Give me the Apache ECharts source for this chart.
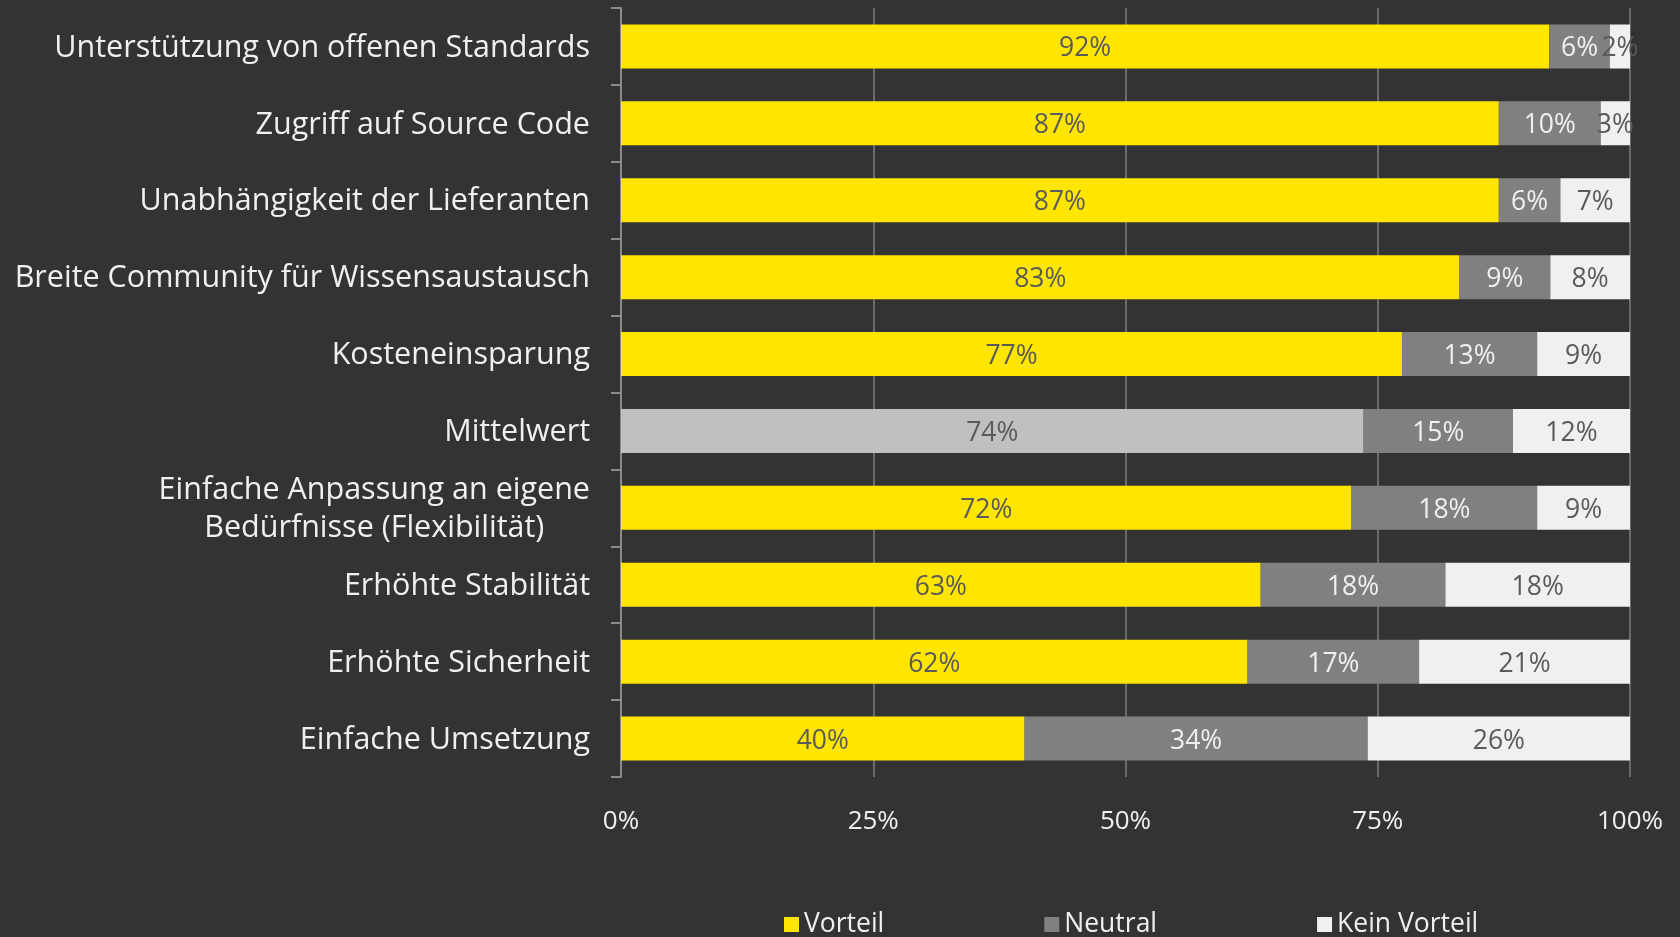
<!DOCTYPE html>
<html>
<head>
<meta charset="utf-8">
<script src="https://cdn.jsdelivr.net/npm/echarts@6/dist/echarts.min.js"></script>
<style>
html,body{margin:0;padding:0;background:#333333;}
#chart{width:1680px;height:937px;}
</style>
</head>
<body>
<div id="chart"></div>
<script>
const categories = [
  'Unterstützung von offenen Standards',
  'Zugriff auf Source Code',
  'Unabhängigkeit der Lieferanten',
  'Breite Community für Wissensaustausch',
  'Kosteneinsparung',
  'Mittelwert',
  'Einfache Anpassung an eigene\nBedürfnisse (Flexibilität)',
  'Erhöhte Stabilität',
  'Erhöhte Sicherheit',
  'Einfache Umsetzung'
];
const seriesNames = ['Vorteil', 'Neutral', 'Kein Vorteil'];
const vorteil = [92.0, 87.0, 87.0, 83.1, 77.4, 73.6, 72.4, 63.4, 62.1, 40.0];
const neutral = [6.0, 10.1, 6.1, 9.0, 13.4, 14.8, 18.4, 18.3, 17.0, 34.0];
const keinVorteil = [2.0, 2.9, 6.9, 7.9, 9.2, 11.6, 9.2, 18.3, 20.9, 26.0];
const xTicks = [0, 25, 50, 75, 100];

const FONT = 'Open Sans';
const chart = echarts.init(document.getElementById('chart'));
const labelFmt = p => Math.round(p.value) + '%';

const vorteilData = vorteil.map((v, i) => categories[i] === 'Mittelwert'
  ? { value: v, itemStyle: { color: '#c0c0c0' } }
  : v);

function mkSeries(name, data, color, labelColor) {
  return {
    name: name,
    type: 'bar',
    stack: 'total',
    data: data,
    barWidth: 44,
    itemStyle: { color: color },
    label: {
      show: true,
      position: 'inside',
      formatter: labelFmt,
      color: labelColor,
      fontFamily: FONT,
      fontSize: 26.5,
      offset: [0, 2.5]
    },
    emphasis: { disabled: true }
  };
}

chart.setOption({
  backgroundColor: '#333333',
  animation: false,
  grid: { left: 621, right: 50, top: 8, bottom: 160, containLabel: false },
  legend: {
    data: seriesNames,
    left: 779,
    top: 906,
    icon: 'rect',
    itemWidth: 15,
    itemHeight: 15,
    itemGap: 160,
    selectedMode: false,
    textStyle: { color: '#f0f0f0', fontFamily: FONT, fontSize: 26.5 }
  },
  xAxis: {
    type: 'value',
    min: xTicks[0],
    max: xTicks[xTicks.length - 1],
    interval: xTicks[1] - xTicks[0],
    axisLine: { show: false },
    axisTick: { show: false },
    splitLine: { show: true, lineStyle: { color: '#7f7f7f', width: 1.5 } },
    axisLabel: {
      color: '#f0f0f0',
      fontFamily: FONT,
      fontSize: 26,
      margin: 32,
      formatter: '{value}%'
    }
  },
  yAxis: {
    type: 'category',
    data: categories,
    inverse: true,
    axisLine: { show: true, lineStyle: { color: '#8c8c8c', width: 2 } },
    axisTick: { show: true, length: 10, lineStyle: { color: '#8c8c8c', width: 2 } },
    axisLabel: {
      color: '#f0f0f0',
      fontFamily: FONT,
      fontSize: 30.5,
      margin: 31,
      lineHeight: 38,
      padding: [3, 0, 0, 0],
      formatter: v => v.split('\n').map(s => '{c|' + s + '}').join('\n'),
      rich: { c: { align: 'center', color: '#f0f0f0', fontFamily: FONT, fontSize: 30.5, lineHeight: 38 } }
    }
  },
  series: [
    mkSeries(seriesNames[0], vorteilData, '#ffe600', '#5a5a5a'),
    mkSeries(seriesNames[1], neutral, '#808080', '#f0f0f0'),
    mkSeries(seriesNames[2], keinVorteil, '#f0f0f0', '#5a5a5a')
  ]
});
</script>
</body>
</html>
